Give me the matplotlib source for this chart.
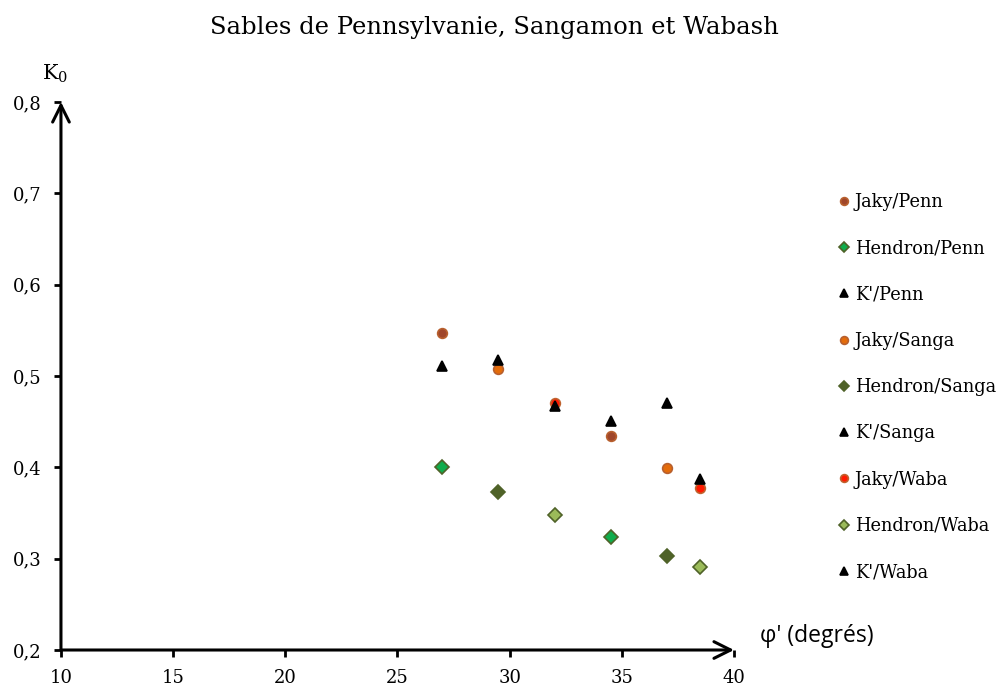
import matplotlib
matplotlib.use('Agg')
import matplotlib.pyplot as plt

# angle de frottement (degrés)
phi_penn = [27, 34.5]
phi_sanga = [29.5, 37]
phi_waba = [32, 38.5]

# K0
jaky_penn = [0.547, 0.434]
hendron_penn = [0.400, 0.324]
kp_penn = [0.511, 0.451]

jaky_sanga = [0.508, 0.399]
hendron_sanga = [0.373, 0.303]
kp_sanga = [0.518, 0.470]

jaky_waba = [0.470, 0.377]
hendron_waba = [0.348, 0.291]
kp_waba = [0.467, 0.387]

x_ticks = [10, 15, 20, 25, 30, 35, 40]
y_ticks = [0.2, 0.3, 0.4, 0.5, 0.6, 0.7, 0.8]

serif = 'DejaVu Serif'

fig = plt.figure(figsize=(10.01, 6.89), dpi=100)
ax = fig.add_axes([0.0609, 0.0566, 0.6724, 0.7954])

series = [
    ('Jaky/Penn', phi_penn, jaky_penn, 'o', '#A0462A', '#B8602E'),
    ('Hendron/Penn', phi_penn, hendron_penn, 'D', '#10AD4C', '#4F6228'),
    ("K'/Penn", phi_penn, kp_penn, '^', 'black', 'black'),
    ('Jaky/Sanga', phi_sanga, jaky_sanga, 'o', '#E46C0A', '#B8602E'),
    ('Hendron/Sanga', phi_sanga, hendron_sanga, 'D', '#4F6228', '#4F6228'),
    ("K'/Sanga", phi_sanga, kp_sanga, '^', 'black', 'black'),
    ('Jaky/Waba', phi_waba, jaky_waba, 'o', '#FF1A00', '#C0622E'),
    ('Hendron/Waba', phi_waba, hendron_waba, 'D', '#9BBB59', '#4F6228'),
    ("K'/Waba", phi_waba, kp_waba, '^', 'black', 'black'),
]

handles = []
for label, xs, ys, m, fc, ec in series:
    ms = 7.5 if m == '^' else 7
    h, = ax.plot(xs, ys, linestyle='none', marker=m, markersize=ms,
                 markerfacecolor=fc, markeredgecolor=ec, markeredgewidth=1.2,
                 label=label)
    handles.append(h)

ax.set_xlim(10, 40)
ax.set_ylim(0.2, 0.8)
ax.set_xticks(x_ticks)
ax.set_xticklabels([str(v) for v in x_ticks], fontsize=13, family=serif)
ax.set_yticks(y_ticks)
ax.set_yticklabels([('%.1f' % v).replace('.', ',') for v in y_ticks],
                   fontsize=13, family=serif)
ax.tick_params(direction='out', length=5, width=2)
ax.tick_params(axis='x', pad=9)
ax.tick_params(axis='y', pad=9)

for s in ax.spines.values():
    s.set_visible(False)

# axes avec flèches
ax.annotate('', xy=(0, 1.0), xytext=(0, 0), xycoords='axes fraction',
            arrowprops=dict(arrowstyle='->', lw=2.2, color='black',
                            mutation_scale=30, shrinkA=0, shrinkB=0))
ax.annotate('', xy=(1.0, 0), xytext=(0, 0), xycoords='axes fraction',
            arrowprops=dict(arrowstyle='->', lw=2.2, color='black',
                            mutation_scale=30, shrinkA=0, shrinkB=0))

fig.text(0.494, 0.96, 'Sables de Pennsylvanie, Sangamon et Wabash',
         ha='center', va='center', fontsize=17.5, family=serif)
fig.text(0.055, 0.893, 'K$_0$', ha='center', va='center', fontsize=15,
         family=serif, math_fontfamily='dejavuserif')
fig.text(0.759, 0.077, "φ' (degrés)", ha='left', va='center', fontsize=16.5,
         family='Open Sans')

fig.legend(handles=handles, loc='upper left', bbox_to_anchor=(0.822, 0.743),
           frameon=False, prop={'family': serif, 'size': 12.8},
           handlelength=0.6, handletextpad=0.3, labelspacing=1.59,
           markerscale=0.8)

fig.savefig('out.png', dpi=100)
